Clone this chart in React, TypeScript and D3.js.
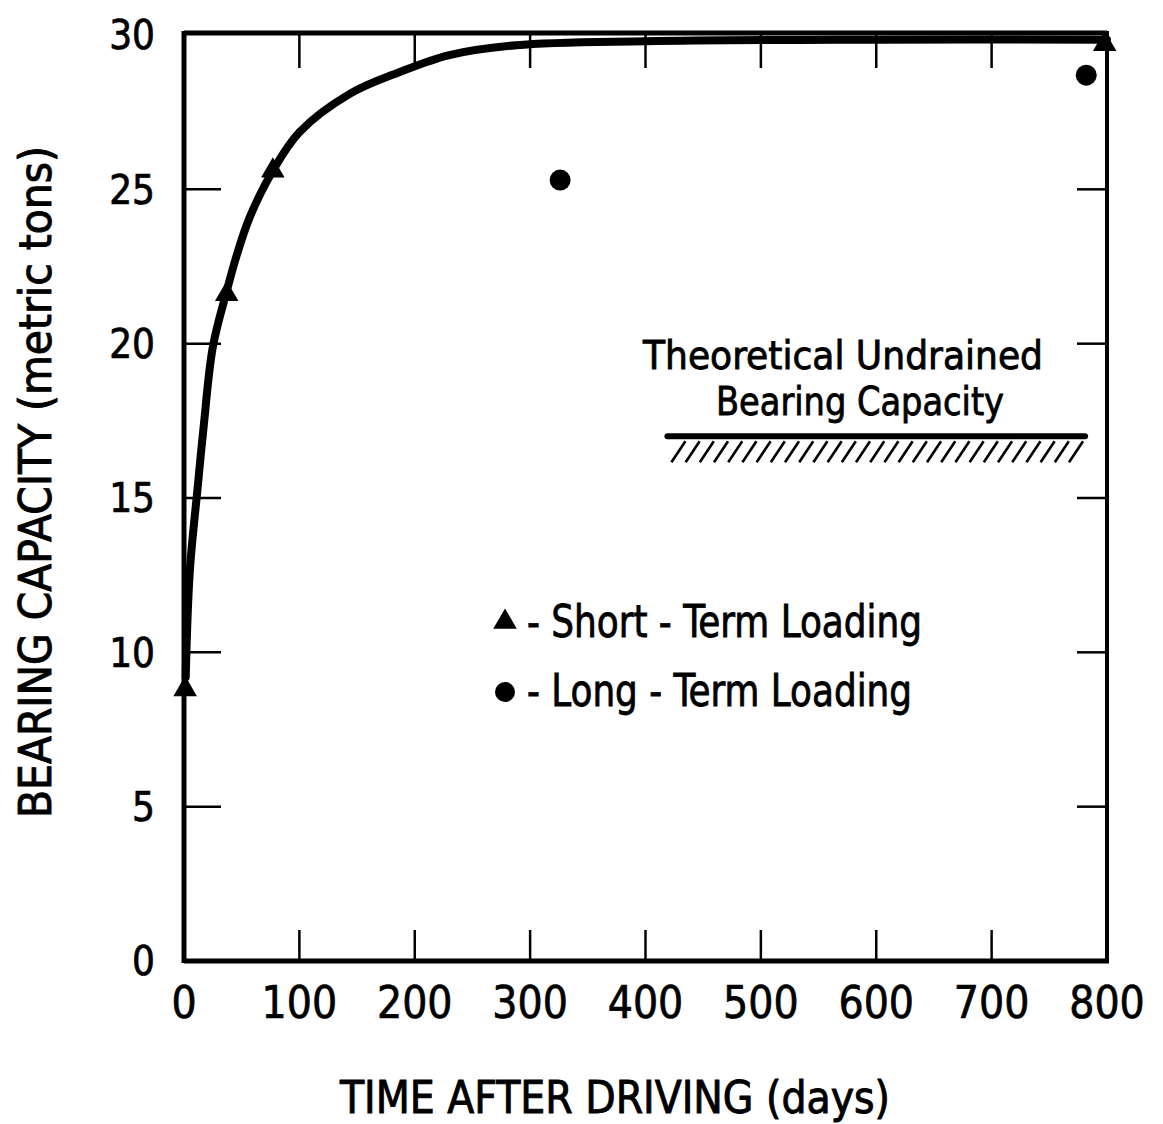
import React from "react";
import * as d3 from "d3";

// Measured short-term (quick) load tests: [days after driving, capacity in metric tons]
const shortTermDays = [1, 37, 77, 798];
const shortTermCapacity = [8.8, 21.6, 25.6, 29.7];

// Long-term (maintained) load tests
const longTermDays = [326, 782];
const longTermCapacity = [25.3, 28.7];

// Fitted set-up curve through the short-term results
const curveDays = [1.5, 5, 12, 17, 25, 37, 46, 57, 77, 100, 144, 187, 230, 288, 400, 600, 800];
const curveCapacity = [9.2, 12.6, 15.4, 17.3, 19.9, 21.7, 22.9, 24.1, 25.6, 26.85, 28.1, 28.8, 29.35, 29.67, 29.8, 29.85, 29.85];

// Theoretical undrained bearing capacity reference level
const theoreticalCapacity = 17;
const theoreticalSpan = [419, 781];

const xTicks = [0, 100, 200, 300, 400, 500, 600, 700, 800];
const yTicks = [0, 5, 10, 15, 20, 25, 30];

const FONT = "'DejaVu Sans Condensed', 'DejaVu Sans', sans-serif";

export default function App() {
  const width = 1163;
  const height = 1124;
  const left = 184;
  const right = 1107;
  const top = 35;
  const bottom = 961;

  const x = d3.scaleLinear().domain([0, 800]).range([left, right]);
  const y = d3.scaleLinear().domain([0, 30]).range([bottom, top]);

  const curvePts: [number, number][] = curveDays.map((d, i) => [d, curveCapacity[i]]);
  const line = d3
    .line<[number, number]>()
    .x((d) => x(d[0]))
    .y((d) => y(d[1]))
    .curve(d3.curveCatmullRom.alpha(0.5));

  const tri = d3.symbol().type(d3.symbolTriangle).size(240)();

  const thY = y(theoreticalCapacity);
  const thX0 = x(theoreticalSpan[0]);
  const thX1 = x(theoreticalSpan[1]);
  const hatchStarts = d3.range(thX0 + 4, thX1 - 8, 14.2);

  return (
    <svg
      width={width}
      height={height}
      style={{ position: "absolute", left: 0, top: 0, background: "#fff" }}
      fontFamily={FONT}
    >
      <rect x={0} y={0} width={width} height={height} fill="#fff" />

      {/* frame */}
      <line x1={left} y1={top - 2} x2={right} y2={top - 2} stroke="#000" strokeWidth={5} />
      <line x1={left} y1={bottom} x2={right + 2} y2={bottom} stroke="#000" strokeWidth={5} />
      <line x1={left} y1={top - 4} x2={left} y2={bottom + 2} stroke="#000" strokeWidth={5} />
      <line x1={right} y1={top - 4} x2={right} y2={bottom + 2} stroke="#000" strokeWidth={4} />

      {/* inside ticks on all four sides */}
      {xTicks.slice(1, -1).map((t) => (
        <g key={"xt" + t}>
          <line x1={x(t)} x2={x(t)} y1={bottom} y2={bottom - 31} stroke="#000" strokeWidth={2.5} />
          <line x1={x(t)} x2={x(t)} y1={top} y2={top + 33} stroke="#000" strokeWidth={2.5} />
        </g>
      ))}
      {yTicks.slice(1, -1).map((t) => (
        <g key={"yt" + t}>
          <line x1={left} x2={left + 37} y1={y(t)} y2={y(t)} stroke="#000" strokeWidth={2.5} />
          <line x1={right} x2={right - 30} y1={y(t)} y2={y(t)} stroke="#000" strokeWidth={2.5} />
        </g>
      ))}

      {/* tick labels */}
      {yTicks.map((t) => (
        <text
          key={"yl" + t}
          x={155}
          y={y(t)}
          dy="0.36em"
          textAnchor="end"
          fontSize={40}
          fill="#000"
          stroke="#000"
          strokeWidth={0.7}
        >
          {t}
        </text>
      ))}
      {xTicks.map((t) => (
        <text
          key={"xl" + t}
          x={x(t)}
          y={1018}
          textAnchor="middle"
          fontSize={44}
          fill="#000"
          stroke="#000"
          strokeWidth={0.7}
        >
          {t}
        </text>
      ))}

      {/* axis titles */}
      <text
        x={340}
        y={1113}
        fontSize={45}
        textLength={550}
        lengthAdjust="spacingAndGlyphs"
        fill="#000"
        stroke="#000"
        strokeWidth={0.9}
      >
        TIME AFTER DRIVING (days)
      </text>
      <text
        transform="translate(51,818) rotate(-90)"
        x={0}
        y={0}
        fontSize={45}
        textLength={672}
        lengthAdjust="spacingAndGlyphs"
        fill="#000"
        stroke="#000"
        strokeWidth={0.9}
      >
        BEARING CAPACITY (metric tons)
      </text>

      {/* fitted curve */}
      <path d={line(curvePts) || ""} fill="none" stroke="#000" strokeWidth={8} strokeLinecap="round" strokeLinejoin="round" />

      {/* short-term loading tests */}
      {shortTermDays.map((d, i) => (
        <path key={"st" + i} d={tri || ""} transform={`translate(${x(d)},${y(shortTermCapacity[i])})`} fill="#000" />
      ))}
      {/* long-term loading tests */}
      {longTermDays.map((d, i) => (
        <circle key={"lt" + i} cx={x(d)} cy={y(longTermCapacity[i])} r={10.5} fill="#000" />
      ))}

      {/* theoretical undrained capacity */}
      <text
        x={643}
        y={369}
        fontSize={39}
        textLength={400}
        lengthAdjust="spacingAndGlyphs"
        fill="#000"
        stroke="#000"
        strokeWidth={0.8}
      >
        Theoretical Undrained
      </text>
      <text
        x={716}
        y={415}
        fontSize={39}
        textLength={288}
        lengthAdjust="spacingAndGlyphs"
        fill="#000"
        stroke="#000"
        strokeWidth={0.8}
      >
        Bearing Capacity
      </text>
      <line x1={thX0} x2={thX1} y1={thY} y2={thY} stroke="#000" strokeWidth={6} strokeLinecap="round" />
      {hatchStarts.map((hx, i) => (
        <line key={"h" + i} x1={hx} y1={thY + 26} x2={hx + 14} y2={thY + 5} stroke="#000" strokeWidth={2.6} />
      ))}

      {/* legend */}
      <path d={tri || ""} transform={`translate(505,622)`} fill="#000" />
      <text
        x={527}
        y={637}
        fontSize={44}
        textLength={395}
        lengthAdjust="spacingAndGlyphs"
        fill="#000"
        stroke="#000"
        strokeWidth={0.8}
      >
        - Short - Term Loading
      </text>
      <circle cx={505} cy={692} r={10} fill="#000" />
      <text
        x={527}
        y={706}
        fontSize={44}
        textLength={385}
        lengthAdjust="spacingAndGlyphs"
        fill="#000"
        stroke="#000"
        strokeWidth={0.8}
      >
        - Long - Term Loading
      </text>
    </svg>
  );
}
